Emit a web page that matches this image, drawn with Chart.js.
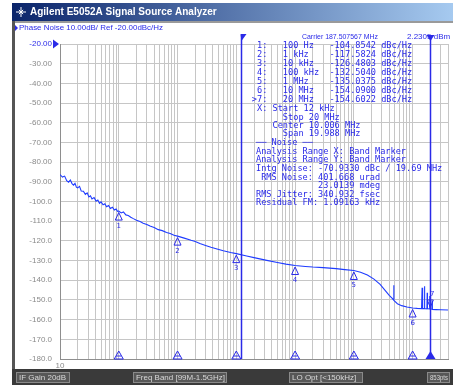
<!DOCTYPE html>
<html>
<head>
<meta charset="utf-8">
<script src="https://cdn.jsdelivr.net/npm/chart.js@4"></script>
<style>
  html, body { margin: 0; padding: 0; background: #fff; }
  canvas { display: block; }
</style>
</head>
<body>
<canvas id="pn" width="453" height="387"></canvas>
<script>
// phase noise trace: offset frequency (Hz) / dBc/Hz
const freqs = [10, 11, 12, 13, 14, 15, 16, 17, 18, 19, 20, 21.5, 23, 25, 27, 29, 31, 33, 35, 38,
    41, 44, 47, 50, 54, 58, 62, 67, 72, 78, 84, 90, 95, 100, 110, 120, 132, 145, 160, 177,
    200, 230, 260, 300, 340, 400, 470, 550, 650, 750, 870, 1000, 1300, 1700, 2000, 2400, 3000, 3700, 4700, 6000,
    8000, 10000, 15000, 20000, 33000, 50000, 70000, 100000, 150000, 200000, 300000, 500000, 700000, 1000000,
    1300000, 1700000, 2200000, 2800000, 3400000, 4000000, 4500000, 4720000, 4770000, 4820000, 5500000, 6500000,
    8000000, 10000000, 12000000, 14200000, 14500000, 14800000, 15700000, 15900000, 16100000, 17500000, 17700000,
    17900000, 19300000, 19500000, 19700000, 20000000, 21300000, 21500000, 21700000, 25000000, 30000000, 40000000];
const noise = [-86.3, -87.6, -87.1, -89.4, -90.2, -89.1, -90.9, -91.7, -90.8, -92.7, -93.1, -92.3, -94.7, -94.8, -96.4, -95.6, -97.7, -97.1, -98.7, -98.0,
    -99.8, -99.2, -100.9, -100.2, -101.7, -101.1, -102.7, -102.0, -103.5, -102.9, -104.3, -103.8, -105.0, -104.8542, -105.8, -105.3, -106.8, -107.1, -108.0, -108.7,
    -109.5, -110.2, -111.0, -111.7, -112.5, -113.2, -114.3, -114.8, -115.7, -116.3, -117.1, -117.5824, -118.6, -119.7, -120.3, -121.3, -122.3, -123.2, -124.1, -125.0,
    -125.9, -126.4803, -127.7, -128.5, -129.9, -131.0, -131.8, -132.504, -133.0, -133.3, -133.6, -134.1, -134.6, -135.0375,
    -135.9, -137.3, -139.4, -142.1, -145.1, -147.7, -149.2, -150.0, -142.6, -150.2, -151.9, -152.9,
    -153.6, -154.09, -154.3, -154.4, -143.8, -154.3, -154.4, -143.0, -154.4, -154.5, -146.3,
    -154.4, -154.6, -148.0, -154.5, -154.6022, -154.7, -150.5, -154.8, -154.9, -155.0, -155.1];

// marker table
const markerFreqs = [100, 1e3, 1e4, 1e5, 1e6, 1e7, 2e7];
const markerVals = [-104.8542, -117.5824, -126.4803, -132.5040, -135.0375, -154.0900, -154.6022];
const markerNames = ["100 Hz", "1 kHz", "10 kHz", "100 kHz", "1 MHz", "10 MHz", "20 MHz"];

// y tick labels
const yTickVals = [-20, -30, -40, -50, -60, -70, -80, -90, -100, -110, -120, -130, -140, -150, -160, -170, -180];
const yTickLabels = ["-20.00", "-30.00", "-40.00", "-50.00", "-60.00", "-70.00", "-80.00", "-90.00",
    "-100.0", "-110.0", "-120.0", "-130.0", "-140.0", "-150.0", "-160.0", "-170.0", "-180.0"];

const bandStart = 12e3, bandStop = 20e6;

const sweepLines = ["X: Start 12 kHz", "     Stop 20 MHz", "   Center 10.006 MHz", "     Span 19.988 MHz"];
const noiseLines = ["\u2500\u2500 Noise \u2500\u2500",
    "Analysis Range X: Band Marker",
    "Analysis Range Y: Band Marker",
    "Intg Noise: -70.9330 dBc / 19.69 MHz",
    " RMS Noise: 401.668 urad",
    "            23.0139 mdeg",
    "RMS Jitter: 340.932 fsec",
    "Residual FM: 1.09163 kHz"];
const statusItems = ["IF Gain 20dB", "Freq Band [99M-1.5GHz]", "LO Opt [<150kHz]", "853pts"];

const BLUE = "#2a2ae8";
const TRACE = "#1f3cff";

// log grid 1..9 per decade
const gridFreqs = [];
for (let d = 10; d < 4e7; d *= 10) {
    for (let k = 1; k < 10; k++) {
        if (d * k <= 4e7) gridFreqs.push(d * k);
    }
}

function tri(c, pts, fill) {
    c.beginPath();
    c.moveTo(pts[0], pts[1]);
    c.lineTo(pts[2], pts[3]);
    c.lineTo(pts[4], pts[5]);
    c.closePath();
    if (fill) c.fill(); else c.stroke();
}

const chrome = {
    id: "chrome",
    beforeDraw(chart) {
        const c = chart.ctx;
        c.save();
        c.fillStyle = "#fff";
        c.fillRect(0, 0, 453, 387);
        // title bar
        const g = c.createLinearGradient(12, 0, 453, 0);
        g.addColorStop(0, "#0a246a");
        g.addColorStop(1, "#a6caf0");
        c.fillStyle = g;
        c.fillRect(12, 3, 441, 18);
        c.fillStyle = "#9a9a9a";
        c.fillRect(12, 21, 441, 2);
        // left frame
        c.fillStyle = "#555";
        c.fillRect(12, 21, 3, 364);
        // icon
        c.strokeStyle = "#fff";
        c.lineWidth = 1;
        const cx = 21, cy = 12;
        for (let a = 0; a < 8; a++) {
            const r = a % 2 ? 3 : 5;
            c.beginPath();
            c.moveTo(cx, cy);
            c.lineTo(cx + r * Math.cos(a * Math.PI / 4), cy + r * Math.sin(a * Math.PI / 4));
            c.stroke();
        }
        c.fillStyle = "#fff";
        c.font = "bold 10px 'Liberation Sans'";
        c.textBaseline = "middle";
        c.fillText("Agilent E5052A Signal Source Analyzer", 30, 12.5, 188);
        // status bar
        c.fillStyle = "#3a3a3a";
        c.fillRect(12, 369, 441, 16);
        const boxes = [[16, 54], [133, 94], [289, 74], [427, 23]];
        c.font = "8px 'Liberation Sans'";
        boxes.forEach((b, i) => {
            c.fillStyle = "#575757";
            c.fillRect(b[0], 372, b[1], 11);
            c.strokeStyle = "#8a8a8a";
            c.strokeRect(b[0] + 0.5, 372.5, b[1] - 1, 10);
            c.fillStyle = "#d8d8d8";
            c.fillText(statusItems[i], b[0] + 3, 377.5, b[1] - 5);
        });
        c.restore();
    },
    afterDraw(chart) {
        const c = chart.ctx;
        const xs = chart.scales.x, ys = chart.scales.y;
        const bottom = chart.chartArea.bottom;
        c.save();
        c.fillStyle = BLUE;
        c.strokeStyle = BLUE;
        c.textBaseline = "middle";

        // header
        tri(c, [15, 25, 15, 31, 18, 28], true);
        c.font = "8px 'Liberation Sans'";
        c.fillText("Phase Noise 10.00dB/ Ref -20.00dBc/Hz", 19, 28, 144);
        c.fillText("Carrier 187.507567 MHz", 302, 37, 76);
        c.fillText("2.2305 dBm", 407, 37, 45);

        // reference level pointer
        const yRef = ys.getPixelForValue(-20);
        tri(c, [53, yRef - 4.5, 53, yRef + 4.5, 59, yRef], true);

        // band marker lines
        const xa = Math.round(xs.getPixelForValue(bandStart)) + 0.5;
        const xb = Math.round(xs.getPixelForValue(bandStop)) + 0.5;
        c.lineWidth = 1.5;
        c.beginPath();
        c.moveTo(xa, 35); c.lineTo(xa, bottom);
        c.moveTo(xb, 38); c.lineTo(xb, bottom);
        c.stroke();
        tri(c, [xa - 1, 34, xa + 5, 34, xa, 41], true);
        tri(c, [xb - 4, 35, xb + 4, 35, xb, 41], true);
        tri(c, [xb - 5, bottom, xb + 5, bottom, xb, bottom - 8], true);

        // marker triangles on the trace
        c.lineWidth = 1;
        c.font = "7px 'DejaVu Sans'";
        c.textAlign = "center";
        markerFreqs.forEach((f, i) => {
            const x = xs.getPixelForValue(f);
            const y = ys.getPixelForValue(markerVals[i]);
            if (i < 6) {
                tri(c, [x, y + 1.5, x - 3.5, y + 9, x + 3.5, y + 9], false);
                c.fillText(String(i + 1), x, y + 15);
                // bottom position indicator
                tri(c, [x, bottom - 8, x - 4.5, bottom, x + 4.5, bottom], false);
                c.beginPath();
                c.moveTo(x - 2.5, bottom - 3); c.lineTo(x + 2.5, bottom - 3);
                c.stroke();
            } else {
                c.fillText(String(i + 1), x + 2, y - 15);
                tri(c, [x, y - 1.5, x - 3, y - 9, x + 3, y - 9], false);
            }
        });

        // marker readout
        c.textAlign = "left";
        c.font = "8.6px 'DejaVu Sans Mono'";
        const cw = c.measureText("0").width;
        markerFreqs.forEach((f, i) => {
            const y = 46 + i * 9;
            const line = (i + 1) + ":   " + markerNames[i].padEnd(9) + markerVals[i].toFixed(4) + " dBc/Hz";
            c.fillText(line, 257, y);
            if (i === 6) c.fillText(">", 257 - cw, y);
        });
        sweepLines.forEach((s, i) => c.fillText(s, 257, 109 + i * 8.3));
        noiseLines.forEach((s, i) => c.fillText(s, 256, 143 + i * 8.6));
        c.restore();
    }
};

new Chart(document.getElementById("pn"), {
    type: "line",
    data: {
        datasets: [{
            data: freqs.map((f, i) => ({ x: f, y: noise[i] })),
            borderColor: TRACE,
            borderWidth: 1.1,
            pointRadius: 0,
            tension: 0,
            fill: false
        }]
    },
    options: {
        responsive: false,
        devicePixelRatio: 1,
        animation: false,
        layout: { padding: { left: 15, top: 44, right: 5, bottom: 16 } },
        plugins: { legend: { display: false }, tooltip: { enabled: false } },
        scales: {
            x: {
                type: "logarithmic",
                min: 10,
                max: 4e7,
                afterBuildTicks: s => { s.ticks = gridFreqs.map(v => ({ value: v })); },
                afterFit: s => { s.height = 12; },
                grid: { color: "#c6c6c6", drawTicks: false },
                border: { color: "#8e8e8e" },
                ticks: {
                    autoSkip: false,
                    maxRotation: 0,
                    padding: 2,
                    color: "#8a8a8a",
                    font: { family: "Liberation Sans", size: 8 },
                    callback: v => (v === 10 ? "10" : "")
                }
            },
            y: {
                min: -180,
                max: -20,
                afterBuildTicks: s => { s.ticks = yTickVals.map(v => ({ value: v })); },
                afterFit: s => { s.width = 45; },
                grid: { color: "#c6c6c6", drawTicks: false },
                border: { color: "#8e8e8e" },
                ticks: {
                    padding: 8,
                    color: c => (c.tick && c.tick.value === -20 ? BLUE : "#8a8a8a"),
                    font: { family: "Liberation Sans", size: 8 },
                    callback: v => yTickLabels[yTickVals.indexOf(v)]
                }
            }
        }
    },
    plugins: [chrome]
});
</script>
</body>
</html>
